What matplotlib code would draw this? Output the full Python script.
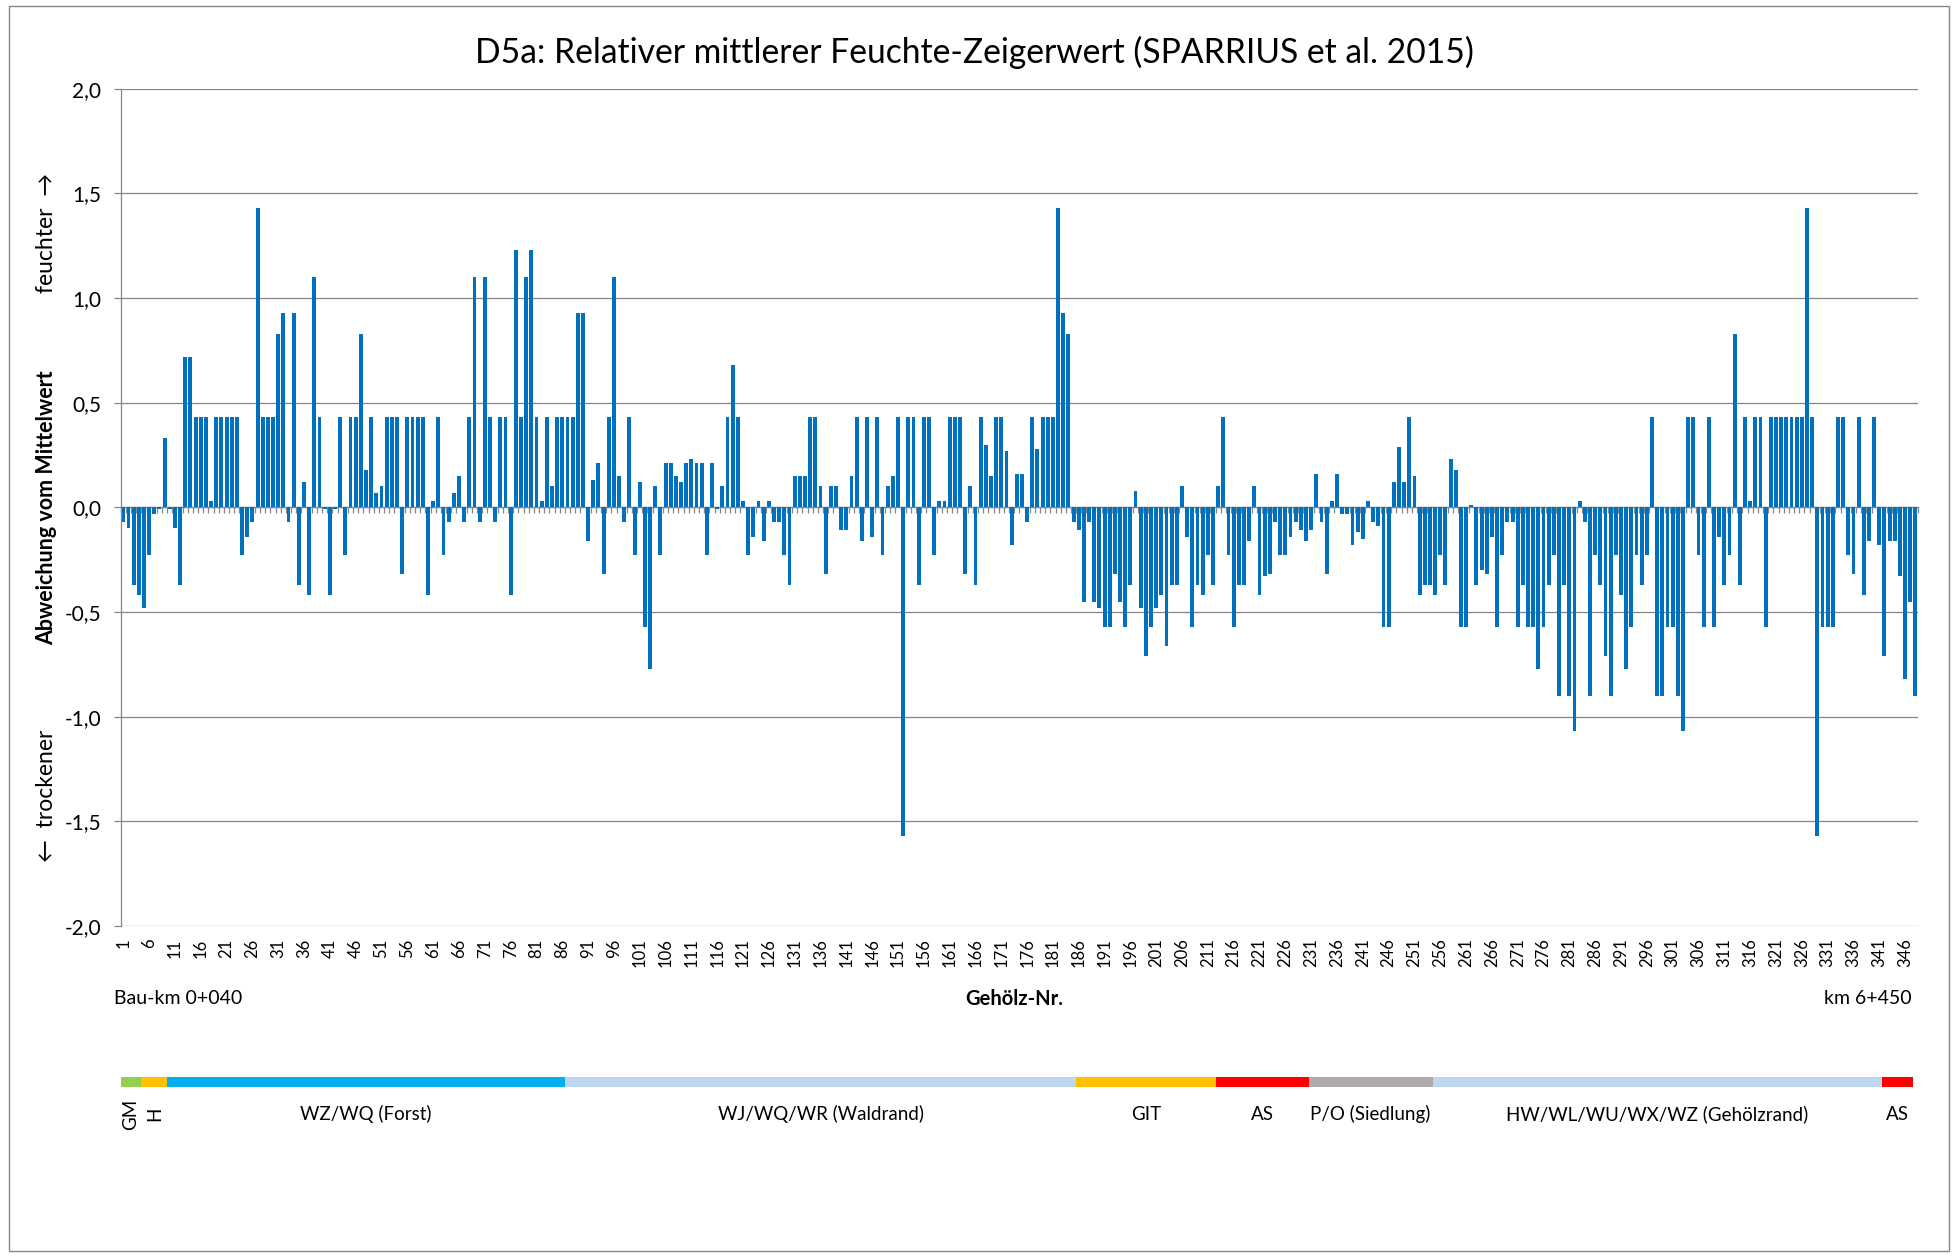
import matplotlib
matplotlib.use("Agg")
import matplotlib.pyplot as plt
import matplotlib.transforms as mtransforms
from matplotlib.patches import Rectangle
from matplotlib.ticker import FuncFormatter
import numpy as np

plt.rcParams["font.family"] = ["Lato", "DejaVu Sans"]

TITLE = "D5a: Relativer mittlerer Feuchte-Zeigerwert (SPARRIUS et al. 2015)"

# Abweichung vom Mittelwert je Gehölz-Nr. 1..348
werte = [
    -0.07, -0.10, -0.37, -0.42, -0.48, -0.23, -0.03, -0.01, 0.33, -0.01,
    -0.10, -0.37, 0.72, 0.72, 0.43, 0.43, 0.43, 0.03, 0.43, 0.43,
    0.43, 0.43, 0.43, -0.23, -0.14, -0.07, 1.43, 0.43, 0.43, 0.43,
    0.83, 0.93, -0.07, 0.93, -0.37, 0.12, -0.42, 1.10, 0.43, -0.01,
    -0.42, -0.01, 0.43, -0.23, 0.43, 0.43, 0.83, 0.18, 0.43, 0.07,
    0.10, 0.43, 0.43, 0.43, -0.32, 0.43, 0.43, 0.43, 0.43, -0.42,
    0.03, 0.43, -0.23, -0.07, 0.07, 0.15, -0.07, 0.43, 1.10, -0.07,
    1.10, 0.43, -0.07, 0.43, 0.43, -0.42, 1.23, 0.43, 1.10, 1.23,
    0.43, 0.03, 0.43, 0.10, 0.43, 0.43, 0.43, 0.43, 0.93, 0.93,
    -0.16, 0.13, 0.21, -0.32, 0.43, 1.10, 0.15, -0.07, 0.43, -0.23,
    0.12, -0.57, -0.77, 0.10, -0.23, 0.21, 0.21, 0.15, 0.12, 0.21,
    0.23, 0.21, 0.21, -0.23, 0.21, -0.01, 0.10, 0.43, 0.68, 0.43,
    0.03, -0.23, -0.14, 0.03, -0.16, 0.03, -0.07, -0.07, -0.23, -0.37,
    0.15, 0.15, 0.15, 0.43, 0.43, 0.10, -0.32, 0.10, 0.10, -0.11,
    -0.11, 0.15, 0.43, -0.16, 0.43, -0.14, 0.43, -0.23, 0.10, 0.15,
    0.43, -1.57, 0.43, 0.43, -0.37, 0.43, 0.43, -0.23, 0.03, 0.03,
    0.43, 0.43, 0.43, -0.32, 0.10, -0.37, 0.43, 0.30, 0.15, 0.43,
    0.43, 0.27, -0.18, 0.16, 0.16, -0.07, 0.43, 0.28, 0.43, 0.43,
    0.43, 1.43, 0.93, 0.83, -0.07, -0.11, -0.45, -0.07, -0.45, -0.48,
    -0.57, -0.57, -0.32, -0.45, -0.57, -0.37, 0.08, -0.48, -0.71, -0.57,
    -0.48, -0.42, -0.66, -0.37, -0.37, 0.10, -0.14, -0.57, -0.37, -0.42,
    -0.23, -0.37, 0.10, 0.43, -0.23, -0.57, -0.37, -0.37, -0.16, 0.10,
    -0.42, -0.33, -0.32, -0.07, -0.23, -0.23, -0.14, -0.07, -0.11, -0.16,
    -0.11, 0.16, -0.07, -0.32, 0.03, 0.16, -0.03, -0.03, -0.18, -0.12,
    -0.15, 0.03, -0.07, -0.09, -0.57, -0.57, 0.12, 0.29, 0.12, 0.43,
    0.15, -0.42, -0.37, -0.37, -0.42, -0.23, -0.37, 0.23, 0.18, -0.57,
    -0.57, 0.01, -0.37, -0.30, -0.32, -0.14, -0.57, -0.23, -0.07, -0.07,
    -0.57, -0.37, -0.57, -0.57, -0.77, -0.57, -0.37, -0.23, -0.90, -0.37,
    -0.90, -1.07, 0.03, -0.07, -0.90, -0.23, -0.37, -0.71, -0.90, -0.23,
    -0.42, -0.77, -0.57, -0.23, -0.37, -0.23, 0.43, -0.90, -0.90, -0.57,
    -0.57, -0.90, -1.07, 0.43, 0.43, -0.23, -0.57, 0.43, -0.57, -0.14,
    -0.37, -0.23, 0.83, -0.37, 0.43, 0.03, 0.43, 0.43, -0.57, 0.43,
    0.43, 0.43, 0.43, 0.43, 0.43, 0.43, 1.43, 0.43, -1.57, -0.57,
    -0.57, -0.57, 0.43, 0.43, -0.23, -0.32, 0.43, -0.42, -0.16, 0.43,
    -0.18, -0.71, -0.16, -0.16, -0.33, -0.82, -0.45, -0.90,
]
nr = np.arange(1, len(werte) + 1)

# Biotop-Abschnitte entlang der Trasse (Gehölz-Nr. von/bis)
abschnitte = ["GM", "H", "WZ/WQ (Forst)", "WJ/WQ/WR (Waldrand)", "GIT", "AS",
              "P/O (Siedlung)", "HW/WL/WU/WX/WZ (Gehölzrand)", "AS"]
von = [1, 5, 10, 87, 186, 213, 231, 255, 342]
bis = [4, 9, 86, 185, 212, 230, 254, 341, 347]
farben = ["#92D050", "#FFC000", "#00B0F0", "#BDD7EE", "#FFC000", "#FF0000",
          "#AEAAAA", "#BDD7EE", "#FF0000"]

GRAU = "#868686"
W, H = 1958, 1258

fig = plt.figure(figsize=(W / 100, H / 100), dpi=100)
ax = fig.add_axes([120.7 / W, 1 - 926 / H, (1918 - 120.7) / W, (926 - 88.7) / H])

ax.bar(nr, werte, width=0.75, color="#0070C0", zorder=2)
ax.set_xlim(0.5, len(werte) + 0.5)
ax.set_ylim(-2, 2)
ax.set_yticks(np.arange(-2, 2.01, 0.5))
ax.yaxis.set_major_formatter(FuncFormatter(lambda v, p: f"{v:.1f}".replace(".", ",")))
ax.grid(axis="y", color=GRAU, lw=0.9)
ax.set_axisbelow(True)
for s in ["top", "right", "bottom"]:
    ax.spines[s].set_visible(False)
ax.spines["left"].set_color(GRAU)
ax.spines["left"].set_linewidth(0.9)
ax.tick_params(axis="y", length=5, width=0.9, color=GRAU, pad=9, labelsize=15)
ax.set_xticks(nr[::5])
ax.tick_params(axis="x", length=0, pad=9, labelsize=12, labelrotation=90)

# Rubrikenachse bei 0 mit Teilstrichen zwischen den Kategorien
sec = ax.secondary_xaxis(0, transform=ax.transData)
sec.set_xticks(np.arange(0.5, len(werte) + 1, 1))
sec.tick_params(length=4.3, width=0.9, color=GRAU, direction="out",
                labelbottom=False, labeltop=False)
sec.spines["bottom"].set_color(GRAU)
sec.spines["bottom"].set_linewidth(0.9)

fig.text(0.4977, 1 - 52 / H, TITLE, ha="center", va="center", fontsize=24.2)

fig.text(47 / W, 1 - 508 / H, "Abweichung vom Mittelwert", rotation=90,
         ha="center", va="center", fontsize=15.5, fontweight="bold")
fig.text(47 / W, 1 - 233 / H, "feuchter  →", rotation=90, ha="center", va="center", fontsize=16.5)
fig.text(47 / W, 1 - 796 / H, "←  trockener", rotation=90, ha="center", va="center", fontsize=16.5)

fig.text(114 / W, 1 - 999 / H, "Bau-km 0+040", ha="left", va="center", fontsize=14)
fig.text(1014 / W, 1 - 999 / H, "Gehölz-Nr.", ha="center", va="center", fontsize=14.5,
         fontweight="bold")
fig.text(1912 / W, 1 - 999 / H, "km 6+450", ha="right", va="center", fontsize=14)

# Farbband der Abschnitte
sax = fig.add_axes([120.7 / W, 1 - 1087 / H, (1918 - 120.7) / W, 10 / H])
sax.set_xlim(ax.get_xlim())
sax.set_ylim(0, 1)
sax.axis("off")
starts = np.array(von) - 0.5
breiten = np.array(bis) - np.array(von) + 1
sax.barh(0.5, breiten, left=starts, height=1, color=farben, clip_on=False)
trans = mtransforms.blended_transform_factory(sax.transData, fig.transFigure)
for name, a, b in zip(abschnitte, von, bis):
    rot = 90 if name in ("GM", "H") else 0
    sax.text((a + b) / 2, 1 - 1114 / H, name, transform=trans, rotation=rot,
             ha="center", va="center", fontsize=13.5)

fig.add_artist(Rectangle((9 / W, 1 - 1251 / H), (1949 - 9) / W, (1251 - 6) / H,
                         transform=fig.transFigure, fill=False, edgecolor=GRAU, lw=1))

fig.savefig("out.png", dpi=100, facecolor="white")
